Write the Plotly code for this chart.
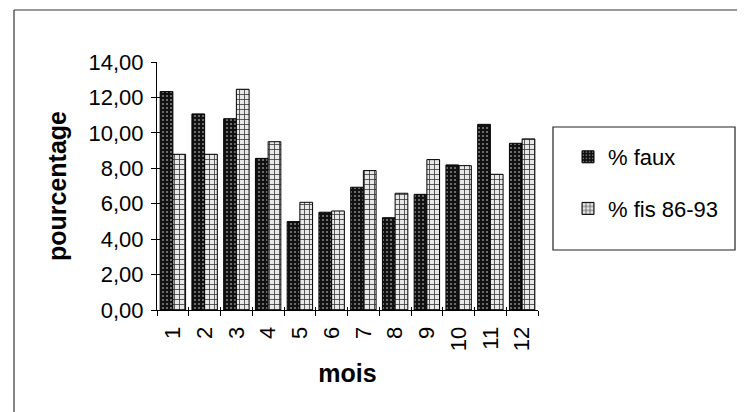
import plotly.graph_objects as go

mois = ["1", "2", "3", "4", "5", "6", "7", "8", "9", "10", "11", "12"]
pct_faux = [12.33, 11.07, 10.80, 8.56, 4.99, 5.52, 6.93, 5.21, 6.53, 8.19, 10.48, 9.41]
pct_fis = [8.79, 8.79, 12.46, 9.50, 6.08, 5.59, 7.87, 6.59, 8.49, 8.15, 7.66, 9.66]
y_ticks = [0, 2, 4, 6, 8, 10, 12, 14]
y_tick_text = ["0,00", "2,00", "4,00", "6,00", "8,00", "10,00", "12,00", "14,00"]

FONT = "Liberation Sans, Arial, sans-serif"

fig = go.Figure()
fig.add_trace(go.Bar(
    x=mois, y=pct_faux, name="% faux", legendgroup="a",
    marker=dict(color="#111111", line=dict(color="black", width=1),
                pattern=dict(shape=".", fgcolor="#8a8a8a", bgcolor="#111111",
                             size=4, solidity=0.2, fillmode="replace")),
))
fig.add_trace(go.Bar(
    x=mois, y=pct_fis, name="% fis 86-93", legendgroup="b",
    marker=dict(color="#e2e2e2", line=dict(color="black", width=1),
                pattern=dict(shape="+", fgcolor="#3a3a3a", bgcolor="#e8e8e8",
                             size=5, solidity=0.3, fillmode="replace")),
))

# page has an 8px body margin: work in page coords and shift
OFF = 8
W, H = 745 - OFF, 412 - OFF
PL, PR, PT, PB = 157, 538, 62, 310  # plot area in page coords
L, T = PL - OFF, PT - OFF
R, B = W - (PR - OFF), H - (PB - OFF)
pw, ph = PR - PL, PB - PT

def px(x):
    return (x - PL) / pw

def py(y):
    return (PB - y) / ph

fig.update_layout(
    width=W, height=H,
    margin=dict(l=L, r=R, t=T, b=B, pad=0),
    paper_bgcolor="white", plot_bgcolor="white",
    font=dict(family=FONT, color="black", size=22),
    barmode="group", bargap=0.2, bargroupgap=0,
    showlegend=True,
    legend=dict(x=px(568), y=py(136), xanchor="left", yanchor="top",
                font=dict(size=22, family=FONT), bgcolor="rgba(0,0,0,0)",
                borderwidth=0, tracegroupgap=20, traceorder="grouped"),
    xaxis=dict(
        type="category", showline=True, linecolor="black", linewidth=1,
        ticks="outside", ticklen=5, tickcolor="black", tickson="boundaries",
        tickangle=-90, showgrid=False, zeroline=False, ticklabelstandoff=7,
        tickfont=dict(size=22, family=FONT),
        title=dict(text="<b>mois</b>", font=dict(size=25, family=FONT), standoff=14),
    ),
    yaxis=dict(
        range=[0, 14], tickvals=y_ticks, ticktext=y_tick_text,
        showline=True, linecolor="black", linewidth=1,
        ticks="outside", ticklen=5, tickcolor="black", ticklabelstandoff=3,
        showgrid=False, zeroline=False,
        tickfont=dict(size=22, family=FONT),
        title=dict(text="<b>pourcentage</b>", font=dict(size=25, family=FONT), standoff=14),
    ),
    yaxis2=dict(
        overlaying="y", range=[0, 14], tickvals=y_ticks, showticklabels=False,
        ticks="inside", ticklen=4, tickcolor="black", showgrid=False,
        zeroline=False, showline=False,
    ),
    xaxis2=dict(
        overlaying="x", range=[-0.5, 11.5], tick0=-0.5, dtick=1,
        showticklabels=False, ticks="inside", ticklen=3, tickcolor="black",
        showgrid=False, zeroline=False, showline=False, anchor="y",
    ),
)

# invisible trace so the overlay axes (inner tick halves) are drawn
fig.add_trace(go.Scatter(x=[0], y=[0], xaxis="x2", yaxis="y2", mode="markers",
                         marker=dict(opacity=0), showlegend=False, hoverinfo="skip"))

# outer frame of the original chart (top and left edges visible)
fig.add_shape(type="line", xref="paper", yref="paper",
              x0=px(14), x1=px(770), y0=py(10), y1=py(10),
              line=dict(color="#333", width=1.2))
fig.add_shape(type="line", xref="paper", yref="paper",
              x0=px(14), x1=px(14), y0=py(10), y1=py(440),
              line=dict(color="#333", width=1.2))
# legend frame
fig.add_shape(type="rect", xref="paper", yref="paper",
              x0=px(553), x1=px(735), y0=py(250), y1=py(127),
              line=dict(color="#222", width=1.2), fillcolor="rgba(0,0,0,0)")

fig.write_html("out.html")
